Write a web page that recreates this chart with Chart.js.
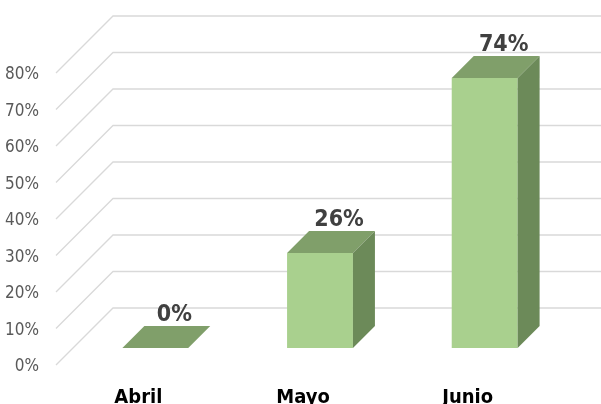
<!DOCTYPE html>
<html>
<head>
<meta charset="utf-8">
<script src="https://cdn.jsdelivr.net/npm/chart.js@4.4.1/dist/chart.umd.min.js"></script>
<style>
    html, body { margin: 0; padding: 0; background: #ffffff; }
    .chart-box { width: 601px; height: 404px; position: relative; }
</style>
</head>
<body>
<div class="chart-box"><canvas id="barChart"></canvas></div>
<script>
// Chart data
const categories = ['Abril', 'Mayo', 'Junio'];
const percentValues = [0, 26, 74];
const yTickValues = [0, 10, 20, 30, 40, 50, 60, 70, 80];

// 3D look settings
const WALL_DEPTH = 57;   // depth of the floor / side wall
const BAR_OFFSET = 17;   // distance from the front edge to the bar front
const BAR_DEPTH = 22;    // depth of each bar

const FONT = '"Liberation Sans Narrow", "DejaVu Sans Condensed", "Liberation Sans", sans-serif';

const colors = {
    front: '#A9D08E',
    top: '#809F6A',
    side: '#6C8A59',
    grid: '#D9D9D9',
    tick: '#595959',
    value: '#404040',
    category: '#000000'
};

// Plugin that draws the walls, the bar tops/sides and all texts
const threeDPlugin = {
    id: 'threeD',
    beforeDatasetsDraw(chart) {
        const ctx = chart.ctx;
        const area = chart.chartArea;
        const yScale = chart.scales.y;
        const back = WALL_DEPTH - BAR_OFFSET;

        ctx.save();
        ctx.strokeStyle = colors.grid;
        ctx.lineWidth = 1.3;
        yTickValues.forEach(v => {
            const y = yScale.getPixelForValue(v);
            ctx.beginPath();
            ctx.moveTo(area.left - BAR_OFFSET, y + BAR_OFFSET);
            ctx.lineTo(area.left + back, y - back);
            ctx.lineTo(chart.width + 10, y - back);
            ctx.stroke();
        });

        // Tick labels on the front edge
        ctx.fillStyle = colors.tick;
        ctx.font = '17px ' + FONT;
        ctx.textAlign = 'right';
        ctx.textBaseline = 'middle';
        yTickValues.forEach(v => {
            const y = yScale.getPixelForValue(v) + BAR_OFFSET + 2;
            ctx.fillText(v + '%', area.left - BAR_OFFSET - 17, y);
        });
        ctx.restore();
    },
    afterDatasetsDraw(chart) {
        const ctx = chart.ctx;
        const meta = chart.getDatasetMeta(0);

        ctx.save();
        meta.data.forEach((bar, i) => {
            const half = bar.width / 2;
            const left = bar.x - half;
            const right = bar.x + half;
            const top = bar.y;
            const bottom = bar.base;

            // top face
            ctx.fillStyle = colors.top;
            ctx.beginPath();
            ctx.moveTo(left, top);
            ctx.lineTo(right, top);
            ctx.lineTo(right + BAR_DEPTH, top - BAR_DEPTH);
            ctx.lineTo(left + BAR_DEPTH, top - BAR_DEPTH);
            ctx.closePath();
            ctx.fill();

            // side face
            if (bottom - top > 0.5) {
                ctx.fillStyle = colors.side;
                ctx.beginPath();
                ctx.moveTo(right, top);
                ctx.lineTo(right + BAR_DEPTH, top - BAR_DEPTH);
                ctx.lineTo(right + BAR_DEPTH, bottom - BAR_DEPTH);
                ctx.lineTo(right, bottom);
                ctx.closePath();
                ctx.fill();
            }

            // value label
            ctx.fillStyle = colors.value;
            ctx.font = 'bold 23px ' + FONT;
            ctx.textAlign = 'center';
            ctx.textBaseline = 'alphabetic';
            ctx.fillText(percentValues[i] + '%', bar.x + 19, top - BAR_DEPTH - 5);

            // category label on the front edge
            ctx.fillStyle = colors.category;
            ctx.font = 'bold 20px ' + FONT;
            ctx.fillText(categories[i], bar.x - BAR_OFFSET, 403);
        });
        ctx.restore();
    }
};

let barChart;
function initBarChart() {
    const ctx = document.getElementById('barChart').getContext('2d');
    barChart = new Chart(ctx, {
        type: 'bar',
        data: {
            labels: categories,
            datasets: [{
                data: percentValues,
                backgroundColor: colors.front,
                borderWidth: 0,
                categoryPercentage: 1,
                barPercentage: 0.4
            }]
        },
        options: {
            responsive: true,
            maintainAspectRatio: false,
            animation: false,
            layout: {
                padding: { left: 73, right: 34, top: 56, bottom: 56 }
            },
            plugins: {
                legend: { display: false },
                tooltip: { enabled: false }
            },
            scales: {
                x: { display: false },
                y: { display: false, min: 0, max: 80 }
            }
        },
        plugins: [threeDPlugin]
    });
}

document.addEventListener('DOMContentLoaded', initBarChart);
</script>
</body>
</html>
